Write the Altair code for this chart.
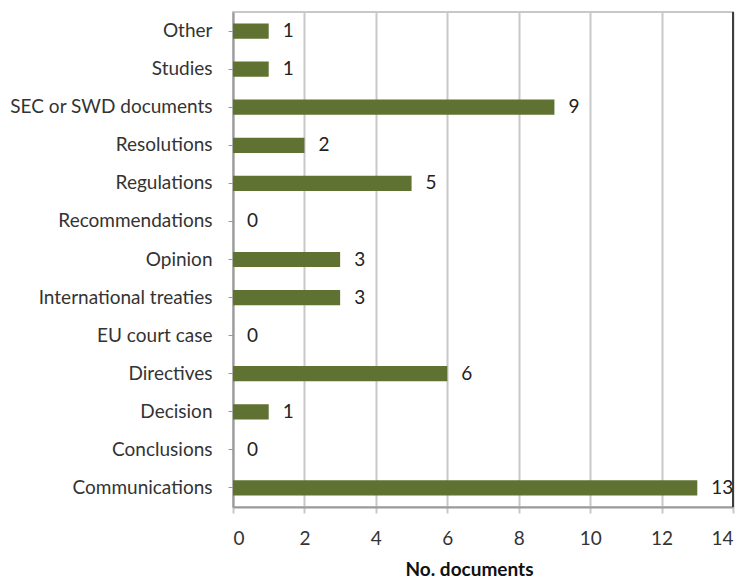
import altair as alt
import pandas as pd

categories = ["Other", "Studies", "SEC or SWD documents", "Resolutions", "Regulations",
              "Recommendations", "Opinion", "International treaties", "EU court case",
              "Directives", "Decision", "Conclusions", "Communications"]
values = [1, 1, 9, 2, 5, 0, 3, 3, 0, 6, 1, 0, 13]

df = pd.DataFrame({"cat": categories, "n": values})

FONT = "Lato"
FS = 19
y_enc = alt.Y("cat:N", sort=categories, title=None,
              scale=alt.Scale(paddingInner=0.6, paddingOuter=0.3),
              axis=alt.Axis(labelFontSize=FS, labelColor="#333", labelFont=FONT,
                            domainColor="#9a9a9a", domainWidth=2, tickColor="#9a9a9a",
                            tickSize=5, labelPadding=16, grid=False, labelLimit=300))
x_enc = alt.X("n:Q", title="No. documents",
              scale=alt.Scale(domain=[0, 14], nice=False),
              axis=alt.Axis(values=list(range(0, 15, 2)), labelFontSize=FS, labelFont=FONT,
                            labelColor="#333", titleFont=FONT, titleFontSize=FS,
                            titleFontWeight="bold", titleColor="#111", titlePadding=12,
                            titleX=236, titleAlign="center",
                            domainColor="#9a9a9a", domainWidth=2, tickColor="#c8c8c8",
                            tickWidth=2, tickSize=6, labelPadding=16,
                            gridColor="#c8c8c8", gridWidth=2))

bars = alt.Chart(df).mark_bar(color="#5f7232").encode(x=x_enc, y=y_enc)
labels = alt.Chart(df).mark_text(align="left", dx=14, font=FONT, fontSize=FS, color="#222").encode(
    x="n:Q", y=alt.Y("cat:N", sort=categories), text="n:Q")
right_edge = alt.Chart(pd.DataFrame({"x": [14]})).mark_rule(color="#111", strokeWidth=1.5).encode(
    x="x:Q")

chart = (bars + labels + right_edge).properties(
    width=500, height=495,
    autosize=alt.AutoSizeParams(type="none"),
    padding={"left": 233, "top": 12, "right": 11, "bottom": 72},
).configure_view(stroke="#c8c8c8", strokeWidth=2)

chart.save("out.html", embed_options={"renderer": "svg", "actions": False})
